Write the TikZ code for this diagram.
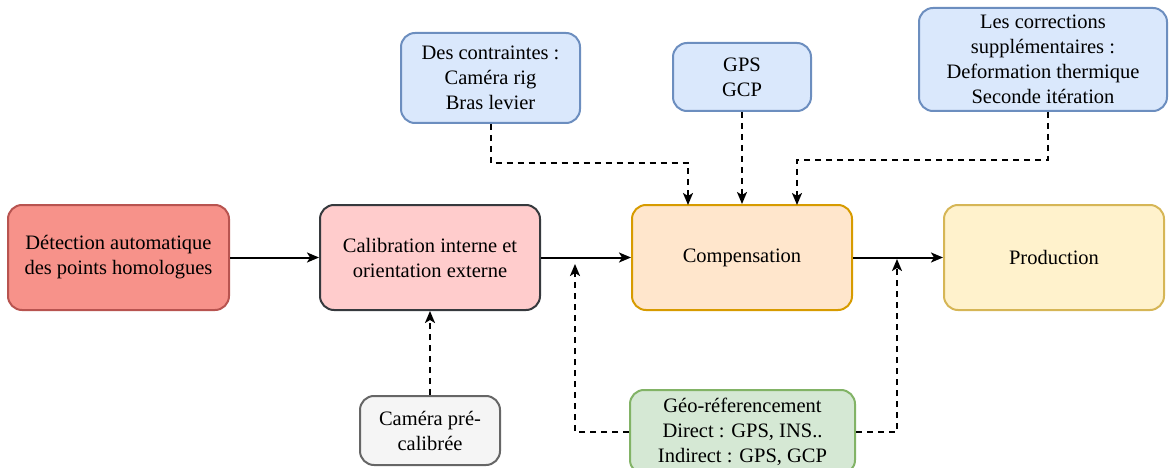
\documentclass[tikz,border=0pt]{standalone}
\usepackage{fontspec}
\setmainfont{Liberation Serif}
\usetikzlibrary{arrows.meta}
\definecolor{redfill}{HTML}{F7928A}
\definecolor{redline}{HTML}{B85450}
\definecolor{pinkfill}{HTML}{FFCCCC}
\definecolor{darkline}{HTML}{36393D}
\definecolor{orfill}{HTML}{FFE6CC}
\definecolor{orline}{HTML}{D79B00}
\definecolor{yefill}{HTML}{FFF2CC}
\definecolor{yeline}{HTML}{D6B656}
\definecolor{blfill}{HTML}{DAE8FC}
\definecolor{blline}{HTML}{6C8EBF}
\definecolor{grfill}{HTML}{D5E8D4}
\definecolor{grline}{HTML}{82B366}
\definecolor{gyfill}{HTML}{F5F5F5}
\definecolor{gyline}{HTML}{666666}
\tikzset{
  box/.style={draw, line width=2pt, rounded corners=14pt, align=center, inner sep=0pt,
    font=\fontsize{20.5}{25}\selectfont},
  solidarrow/.style={line width=2pt, -{Stealth[length=12pt,width=10pt,inset=3pt]}},
  dasharrow/.style={line width=2pt, dash pattern=on 6pt off 5pt, -{Stealth[length=12pt,width=10pt,inset=3pt]}}
}
\begin{document}
\begin{tikzpicture}[x=1pt,y=-1pt]
\useasboundingbox (0,0) rectangle (1176,468);
\node[box, fill=redfill, draw=redline, minimum width=221pt, minimum height=105pt] (det) at (118.5,257.5) {Détection automatique\\des points homologues};
\node[box, fill=pinkfill, draw=darkline, minimum width=220pt, minimum height=105pt] (cal) at (430,257.5) {Calibration interne et\\orientation externe};
\node[box, fill=orfill, draw=orline, minimum width=220pt, minimum height=105pt] (comp) at (742,257.5) {Compensation};
\node[box, fill=yefill, draw=yeline, minimum width=220pt, minimum height=105pt] (prod) at (1054,257.5) {Production};
\node[box, fill=blfill, draw=blline, minimum width=179pt, minimum height=90pt] (cont) at (490.5,78) {Des contraintes :\\Caméra rig\\Bras levier};
\node[box, fill=blfill, draw=blline, minimum width=138pt, minimum height=68pt] (gps) at (742,77) {GPS\\GCP};
\node[box, fill=blfill, draw=blline, minimum width=248pt, minimum height=103pt] (corr) at (1043,59.5) {Les corrections\\supplémentaires :\\Deformation thermique\\Seconde itération};
\node[box, fill=gyfill, draw=gyline, minimum width=140pt, minimum height=69pt] (cam) at (430,430.5) {Caméra pré-\\calibrée};
\node[box, fill=grfill, draw=grline, minimum width=225pt, minimum height=84pt] (geo) at (742.5,432) {Géo-réferencement\\Direct : GPS, INS..\\Indirect : GPS, GCP};

\draw[solidarrow] (det.east) -- (cal.west);
\draw[solidarrow] (cal.east) -- (comp.west);
\draw[solidarrow] (comp.east) -- (prod.west);

\coordinate (t1) at (688,205);
\coordinate (t3) at (797,205);
\draw[dasharrow] (cont.south) -- (490.5,163) -| (t1);
\draw[dasharrow] (gps.south) -- (comp.north);
\draw[dasharrow] (corr.south -| 1048,0) -- (1048,160) -| (t3);
\draw[dasharrow] (cam.north) -- (cal.south);

\coordinate (m1) at (575,264);
\coordinate (m2) at (897,259);
\draw[dasharrow] (geo.west) -| (m1);
\draw[dasharrow] (geo.east) -| (m2);
\end{tikzpicture}
\end{document}
